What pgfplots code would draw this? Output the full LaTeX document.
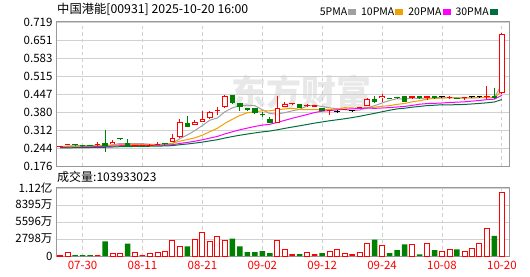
\documentclass[border=0pt]{standalone}
\usepackage{fontspec}
\setmainfont{Noto Sans CJK SC}
\usepackage{pgfplots}
\usepackage{pgfplotstable}
\pgfplotsset{compat=1.18}
\definecolor{upred}{HTML}{FF0000}
\definecolor{dngreen}{HTML}{008000}
\definecolor{ma5c}{HTML}{A0A0A0}
\definecolor{ma10c}{HTML}{F0A000}
\definecolor{ma20c}{HTML}{FF00FF}
\definecolor{ma30c}{HTML}{006F3C}
\definecolor{gridc}{HTML}{D0D0D0}
\definecolor{framec}{HTML}{999999}

\pgfplotstableread{
i O H L C
7 0.259 0.274 0.258 0.267
13 0.255 0.265 0.254 0.260
15 0.268 0.295 0.266 0.280
16 0.284 0.352 0.283 0.343
18 0.331 0.350 0.330 0.343
19 0.343 0.383 0.342 0.353
20 0.356 0.385 0.355 0.381
22 0.397 0.443 0.396 0.441
29 0.339 0.441 0.337 0.394
30 0.400 0.416 0.399 0.410
34 0.400 0.406 0.399 0.405
41 0.402 0.431 0.401 0.429
43 0.431 0.447 0.417 0.441
47 0.433 0.441 0.429 0.440
59 0.450 0.676 0.449 0.675
}\upH

\pgfplotstableread{
i O H L C
0 0.248 0.252 0.247 0.250
1 0.255 0.260 0.254 0.258
5 0.255 0.265 0.253 0.258
10 0.250 0.256 0.249 0.254
11 0.253 0.254 0.252 0.253
12 0.253 0.259 0.252 0.256
21 0.382 0.400 0.368 0.384
31 0.409 0.411 0.408 0.410
33 0.404 0.411 0.398 0.405
36 0.384 0.389 0.370 0.385
38 0.388 0.391 0.387 0.390
40 0.395 0.400 0.394 0.398
49 0.433 0.441 0.425 0.440
52 0.433 0.440 0.429 0.433
54 0.431 0.434 0.425 0.432
57 0.436 0.478 0.430 0.437
}\upF

\pgfplotstableread{
i O H L C
2 0.256 0.257 0.254 0.255
3 0.253 0.253 0.252 0.252
4 0.253 0.254 0.251 0.252
6 0.264 0.312 0.228 0.252
8 0.278 0.278 0.277 0.277
9 0.263 0.277 0.250 0.251
14 0.259 0.264 0.255 0.258
17 0.338 0.364 0.323 0.324
23 0.444 0.445 0.410 0.415
24 0.412 0.413 0.385 0.400
25 0.394 0.396 0.384 0.386
26 0.394 0.396 0.373 0.375
27 0.372 0.378 0.362 0.367
28 0.353 0.360 0.338 0.339
32 0.409 0.410 0.395 0.396
35 0.394 0.395 0.384 0.385
42 0.429 0.441 0.414 0.417
44 0.431 0.433 0.428 0.430
45 0.434 0.436 0.429 0.432
46 0.440 0.441 0.418 0.419
48 0.440 0.441 0.430 0.431
50 0.440 0.441 0.430 0.431
53 0.430 0.431 0.427 0.429
58 0.440 0.469 0.430 0.431
}\dnT

\pgfplotstableread{
i O H L C
37 0.379 0.386 0.375 0.379
39 0.383 0.384 0.382 0.383
51 0.436 0.440 0.431 0.436
55 0.436 0.440 0.431 0.436
56 0.437 0.441 0.433 0.437
}\blkT

\pgfplotstableread{
i ma5 ma10 ma20 ma30
0 0.2488 0.2496 0.2458 0.2439
1 0.2508 0.2504 0.2466 0.2445
2 0.2524 0.2508 0.2473 0.2450
3 0.2528 0.2511 0.2478 0.2454
4 0.2534 0.2511 0.2483 0.2458
5 0.2546 0.2517 0.2490 0.2463
6 0.2534 0.2521 0.2495 0.2467
7 0.2558 0.2541 0.2507 0.2476
8 0.2608 0.2568 0.2525 0.2488
9 0.2606 0.2570 0.2529 0.2492
10 0.2602 0.2574 0.2535 0.2497
11 0.2604 0.2569 0.2537 0.2500
12 0.2582 0.2570 0.2539 0.2505
13 0.2548 0.2578 0.2545 0.2511
14 0.2562 0.2584 0.2548 0.2516
15 0.2614 0.2608 0.2563 0.2529
16 0.2794 0.2699 0.2610 0.2563
17 0.2930 0.2756 0.2649 0.2590
18 0.3096 0.2822 0.2695 0.2624
19 0.3286 0.2924 0.2747 0.2661
20 0.3488 0.3051 0.2813 0.2707
21 0.3570 0.3182 0.2876 0.2752
22 0.3804 0.3367 0.2969 0.2815
23 0.3948 0.3522 0.3050 0.2870
24 0.4042 0.3664 0.3124 0.2920
25 0.4052 0.3770 0.3189 0.2965
26 0.4034 0.3802 0.3251 0.3007
27 0.3886 0.3845 0.3301 0.3047
28 0.3734 0.3841 0.3332 0.3077
29 0.3722 0.3882 0.3403 0.3125
30 0.3770 0.3911 0.3481 0.3179
31 0.3840 0.3937 0.3560 0.3229
32 0.3898 0.3892 0.3630 0.3276
33 0.4030 0.3882 0.3702 0.3327
34 0.4052 0.3887 0.3776 0.3378
35 0.4002 0.3886 0.3828 0.3421
36 0.3952 0.3896 0.3849 0.3466
37 0.3918 0.3908 0.3877 0.3503
38 0.3888 0.3959 0.3900 0.3541
39 0.3844 0.3948 0.3915 0.3585
40 0.3870 0.3936 0.3924 0.3633
41 0.3958 0.3955 0.3946 0.3691
42 0.4034 0.3976 0.3934 0.3745
43 0.4136 0.4012 0.3947 0.3805
44 0.4230 0.4037 0.3962 0.3863
45 0.4298 0.4084 0.3985 0.3913
46 0.4278 0.4118 0.4007 0.3939
47 0.4324 0.4179 0.4044 0.3977
48 0.4304 0.4220 0.4090 0.4007
49 0.4324 0.4277 0.4113 0.4036
50 0.4322 0.4310 0.4123 0.4052
51 0.4356 0.4317 0.4136 0.4070
52 0.4342 0.4333 0.4155 0.4067
53 0.4338 0.4321 0.4167 0.4072
54 0.4322 0.4323 0.4180 0.4082
55 0.4332 0.4327 0.4206 0.4099
56 0.4334 0.4345 0.4232 0.4120
57 0.4342 0.4342 0.4261 0.4143
58 0.4346 0.4342 0.4281 0.4174
59 0.4832 0.4577 0.4427 0.4267
}\maT

\pgfplotstableread{
i v
0 160
1 580
7 420
8 420
10 580
12 420
13 580
14 790
15 2530
16 1580
18 2790
19 3800
20 2370
21 3270
22 2530
29 2530
30 1050
33 580
36 740
37 1050
38 420
40 580
41 2000
43 1690
47 1840
49 2000
51 790
52 1050
54 790
55 1210
56 2000
57 4530
59 10393.3
}\volR

\pgfplotstableread{
i v
5 160
11 160
31 320
34 320
39 320
}\volF

\pgfplotstableread{
i v
2 160
3 160
4 160
6 2420
9 2055
17 1580
23 2850
24 1580
25 630
26 630
27 790
28 470
32 320
35 470
42 2690
44 470
45 950
46 1900
48 260
50 950
53 1110
58 3320
}\volG

\pgfplotsset{
  candle/.style={draw=none, mark=none, forget plot,
    error bars/y dir=plus, error bars/y explicit,
    error bars/error mark=none,
    error bars/error mark options={draw=none, fill=none}},
  basepanel/.style={
    scale only axis, width=453pt,
    xmin=-0.55, xmax=59.95,
    xtick={3,11,19,27,35,43,51,59},
    major tick length=0pt,
    xmajorgrids, ymajorgrids,
    major x grid style={gridc, dash pattern=on 3.5pt off 3pt, line width=0.8pt},
    major y grid style={gridc, line width=0.8pt},
    axis line style={framec, line width=1pt},
    tick label style={font=\fontsize{11.5}{12}\selectfont},
    scaled y ticks=false,
  },
  sq/.style={legend image code/.code={\fill[#1] (0pt,-2pt) rectangle (7pt,2.5pt);}},
}

\begin{document}
\begin{tikzpicture}[x=1pt,y=1pt]
\path[use as bounding box] (0,0) rectangle (530,276);
\node[font=\fontsize{35}{36}\selectfont\bfseries, text=black!9, inner sep=0pt] at (301,184) {东方财富};
\node[anchor=west, font=\fontsize{12.3}{13}\selectfont, inner sep=0pt] at (57,267) {中国港能[00931] 2025-10-20 16:00};
\node[anchor=west, font=\fontsize{12}{13}\selectfont, inner sep=0pt] at (57,99) {成交量:103933023};

\begin{axis}[basepanel,
  at={(56pt,110pt)}, anchor=south west, height=144pt,
  ymin=0.176, ymax=0.719,
  xticklabels={},
  ytick={0.176,0.243875,0.31175,0.379625,0.4475,0.515375,0.58325,0.651125,0.719},
  yticklabels={0.176,0.244,0.312,0.380,0.447,0.515,0.583,0.651,0.719},
  legend style={at={(1,1)}, anchor=south east, xshift=-11pt, yshift=4pt,
    draw=none, fill=none, inner sep=0pt, legend columns=4,
    legend plot pos=right, font=\fontsize{10.5}{12}\selectfont,
    nodes={inner sep=1pt},
    /tikz/every even column/.append style={column sep=4pt},
    /tikz/every odd column/.append style={column sep=0pt}},
]
\addplot[ma5c, line width=1pt, sq=ma5c] table[x=i,y=ma5]{\maT};
\addlegendentry{5PMA}
\addplot[ma10c, line width=1pt, sq=ma10c] table[x=i,y=ma10]{\maT};
\addlegendentry{10PMA}
\addplot[ma20c, line width=1pt, sq=ma20c] table[x=i,y=ma20]{\maT};
\addlegendentry{20PMA}
\addplot[ma30c, line width=1pt, sq=ma30c] table[x=i,y=ma30]{\maT};
\addlegendentry{30PMA}

% wicks
\addplot[candle, error bars/error bar style={draw=upred, line width=1pt}] table[x=i, y=L, y error plus expr={\thisrow{H}-\thisrow{L}}]{\upH};
\addplot[candle, error bars/error bar style={draw=upred, line width=1pt}] table[x=i, y=L, y error plus expr={\thisrow{H}-\thisrow{L}}]{\upF};
\addplot[candle, error bars/error bar style={draw=dngreen, line width=1pt}] table[x=i, y=L, y error plus expr={\thisrow{H}-\thisrow{L}}]{\dnT};
\addplot[candle, error bars/error bar style={draw=black, line width=1pt}] table[x=i, y=L, y error plus expr={\thisrow{H}-\thisrow{L}}]{\blkT};
% bodies
\addplot[candle, error bars/error bar style={draw=upred, line width=5.5pt}] table[x=i, y=O, y error plus expr={max(\thisrow{C}-\thisrow{O},0.0035)}]{\upH};
\addplot[candle, error bars/error bar style={draw=white, line width=3.5pt}] table[x=i, y expr={\thisrow{O}+0.0038}, y error plus expr={max(\thisrow{C}-\thisrow{O}-0.0076,0)}]{\upH};
\addplot[candle, error bars/error bar style={draw=upred, line width=5.5pt}] table[x=i, y=O, y error plus expr={max(\thisrow{C}-\thisrow{O},0.0035)}]{\upF};
\addplot[candle, error bars/error bar style={draw=dngreen, line width=5.5pt}] table[x=i, y=C, y error plus expr={max(\thisrow{O}-\thisrow{C},0.0035)}]{\dnT};
\addplot[candle, error bars/error bar style={draw=black, line width=5.5pt}] table[x=i, y=O, y error plus expr={max(\thisrow{C}-\thisrow{O},0.0035)}]{\blkT};
\end{axis}

\begin{axis}[basepanel,
  at={(56pt,20pt)}, anchor=south west, height=68pt,
  ymin=0, ymax=11193,
  xticklabels={07-30,08-11,08-21,09-02,09-12,09-24,10-08,10-20},
  xticklabel style={text=upred, yshift=-2pt},
  ytick={0,2798,5596,8395,11193},
  yticklabels={0,2798万,5596万,8395万,1.12亿},
]
\addplot[ybar, bar width=5pt, bar shift=0pt, draw=upred, fill=white, line width=0.9pt] table[x=i,y=v]{\volR};
\addplot[ybar, bar width=5.5pt, bar shift=0pt, draw=none, fill=upred] table[x=i,y=v]{\volF};
\addplot[ybar, bar width=5.5pt, bar shift=0pt, draw=none, fill=dngreen] table[x=i,y=v]{\volG};
\end{axis}
\end{tikzpicture}
\end{document}
